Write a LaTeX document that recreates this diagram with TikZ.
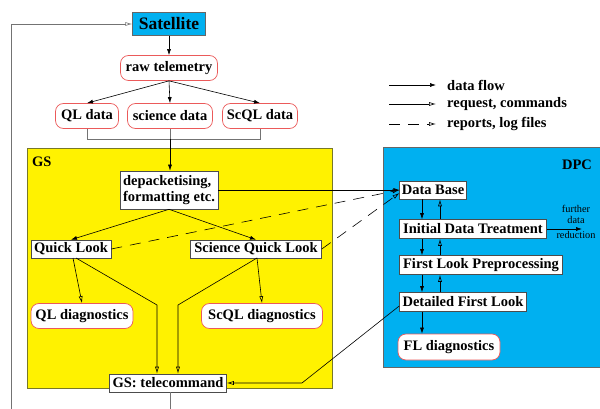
\documentclass[tikz,border=0pt]{standalone}
\usepackage{fontspec}
\setmainfont{Liberation Serif}
\usetikzlibrary{arrows.meta}
\definecolor{skyc}{RGB}{0,176,240}
\definecolor{boxred}{RGB}{235,90,90}
\definecolor{gsline}{RGB}{120,120,40}
\tikzset{
  base/.style={font=\fontsize{14.5}{15.5}\selectfont\bfseries, inner sep=2pt},
  rbox/.style={base, draw=boxred, fill=white, rounded corners=8pt, minimum height=25, line width=0.7pt},
  wbox/.style={base, draw=black!70, fill=white, minimum height=18, line width=0.6pt},
  df/.style={-{Latex[length=6pt,width=4pt]}, line width=0.6pt},
  rq/.style={-{Latex[open,length=7pt,width=4pt]}, line width=0.6pt},
  rp/.style={rq, dash pattern=on 11pt off 8pt},
  gline/.style={draw=black!55, line width=0.7pt},
}
\begin{document}
\begin{tikzpicture}[x=1pt,y=-1pt]
\useasboundingbox (0,0) rectangle (600,409);
% region boxes
\node[draw=gsline, fill=yellow, line width=0.8pt, minimum width=305, minimum height=240, anchor=north west] (gs) at (27,148) {};
\node[draw=black!60, fill=skyc, line width=0.8pt, minimum width=220, minimum height=220, anchor=north west] (dpc) at (383,147) {};
\node[base, anchor=west] (gslab) at (30,162) {GS};
\node[base] (dpclab) at (577,165) {DPC};
% nodes
\node[base, draw=black!60, fill=skyc, minimum width=73, minimum height=23, font=\fontsize{17.5}{18}\selectfont\bfseries] (sat) at (169,24) {Satellite};
\node[rbox, minimum width=97] (raw) at (169,68) {raw telemetry};
\node[rbox, minimum width=63] (ql) at (87,116) {QL data};
\node[rbox, minimum width=85] (sci) at (170,116) {science data};
\node[rbox, minimum width=75] (scql) at (260,116) {ScQL data};
\node[wbox, align=left, minimum width=98, minimum height=38, inner sep=3pt] (dep) at (169,190) {depacketising,\\formatting etc.};
\node[wbox, minimum width=80] (qlk) at (71,249) {Quick Look};
\node[wbox, minimum width=131] (sqlk) at (256,249) {Science Quick Look};
\node[rbox, minimum width=102] (qld) at (82,316) {QL diagnostics};
\node[rbox, minimum width=121] (scqld) at (262,316) {ScQL diagnostics};
\node[wbox, minimum width=117] (tc) at (168,383) {GS: telecommand};
\node[wbox, minimum width=66] (db) at (433,190) {Data Base};
\node[wbox, minimum width=147, minimum height=19] (idt) at (473,229) {Initial Data Treatment};
\node[wbox, minimum width=163, minimum height=19] (flp) at (481,265) {First Look Preprocessing};
\node[wbox, minimum width=127, minimum height=19] (dfl) at (463,302) {Detailed First Look};
\node[rbox, minimum width=102, minimum height=26] (fld) at (449,347) {FL diagnostics};
% further data reduction
\node[font=\fontsize{10.3}{11}\selectfont, align=center, inner sep=0pt] (fdr) at (576,222) {further\\data\\[4pt]reduction};
\coordinate (fdrend) at (582,229);
\draw[df] (idt.east) -- (fdrend);
% legend
\coordinate (l1a) at (389,85); \coordinate (l1b) at (436,85);
\coordinate (l2a) at (389,104); \coordinate (l2b) at (436,104);
\coordinate (l3a) at (389,124); \coordinate (l3b) at (436,124);
\draw[df] (l1a) -- (l1b);
\draw[rq] (l2a) -- (l2b);
\draw[rp] (l3a) -- (l3b);
\node[base, anchor=west] (t1) at (445,85) {data flow};
\node[base, anchor=west] (t2) at (445,104) {request, commands};
\node[base, anchor=west] (t3) at (445,124) {reports, log files};
% top flow
\draw[df] (sat) -- (raw);
\draw[df] (raw.south) -- (ql.north);
\draw[df] (raw.south) -- (sci.north);
\draw[df] (raw.south) -- (scql.north);
\coordinate (jn) at (170,139);
\draw[gline] (ql.south) -- (ql.south |- jn) -- (scql.south |- jn) -- (scql.south);
\draw[gline] (sci.south) -- (jn);
\draw[df] (jn) -- (dep.north -| jn);
% GS flows
\draw[df] (dep.south) -- (qlk.north);
\draw[df] (dep.south) -- (sqlk.north);
\coordinate (qa) at (73,258); \coordinate (qb) at (76,258);
\coordinate (qk) at (157,305);
\coordinate (sa) at (257,258);
\coordinate (sk) at (178,305);
\draw[rq] (qa) -- (qld.north);
\draw[rq] (qb) -- (qk) -- (tc.north -| qk);
\draw[rq] (sa) -- (sk) -- (tc.north -| sk);
\draw[rq] (sa) -- (scqld.north);
% to database
\draw[df] (dep.east |- db.west) -- (db.west);
\draw[rp] (qlk.east) -- (db.west);
\draw[rp] (sqlk.east) -- ([yshift=-3pt]db.west);
% DPC chain
\coordinate (dn) at (422,0);
\coordinate (up) at (440,0);
\draw[df] (db.south -| dn) -- (idt.north -| dn);
\draw[df] (idt.south -| dn) -- (flp.north -| dn);
\draw[df] (flp.south -| dn) -- (dfl.north -| dn);
\draw[df] (dfl.south -| dn) -- (fld.north -| dn);
\draw[rq] (idt.north -| up) -- (db.south -| up);
\draw[rq] (flp.north -| up) -- (idt.south -| up);
\draw[rq] (dfl.north -| up) -- (flp.south -| up);
% command back
\coordinate (bk) at (302,383);
\draw[rq] ([yshift=-4pt]dfl.west) -- (bk) -- (tc.east);
% uplink loop
\coordinate (lb) at (11,409);
\coordinate (tb) at (170,409);
\draw[gline] (tc.south -| tb) -- (tb);
\draw[gline, rq, draw=black!55] (lb) -- (lb |- sat.west) -- (sat.west);
\end{tikzpicture}
\end{document}
